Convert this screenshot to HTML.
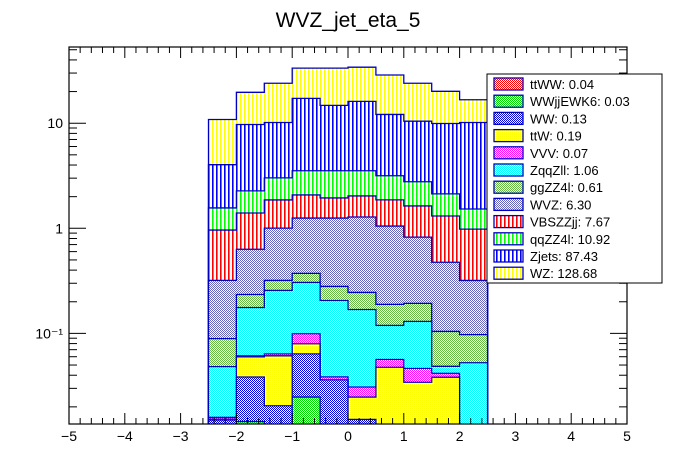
<!DOCTYPE html>
<html><head><meta charset="utf-8"><style>
html,body{margin:0;padding:0;background:#fff;overflow:hidden;width:696px;height:472px;}
svg{display:block;font-family:"Liberation Sans",Arial,sans-serif;}
</style></head><body>
<svg id="chart" width="696" height="472" viewBox="0 0 696 472">
<defs>
 <pattern id="vl-yellow" width="4" height="4" patternUnits="userSpaceOnUse"><rect width="4" height="4" fill="#fff"/><rect x="0" width="1.6" height="4" fill="#ffff00"/></pattern>
 <pattern id="vl-blue" width="4" height="4" patternUnits="userSpaceOnUse"><rect width="4" height="4" fill="#fff"/><rect x="0" width="1.6" height="4" fill="#0000ff"/></pattern>
 <pattern id="vl-green" width="4" height="4" patternUnits="userSpaceOnUse"><rect width="4" height="4" fill="#fff"/><rect x="0" width="1.6" height="4" fill="#00ff00"/></pattern>
 <pattern id="vl-red" width="4" height="4" patternUnits="userSpaceOnUse"><rect width="4" height="4" fill="#fff"/><rect x="0" width="1.6" height="4" fill="#ff0000"/></pattern>
 <pattern id="ck-red" width="2" height="2" patternUnits="userSpaceOnUse"><rect width="2" height="2" fill="#fff"/><rect width="1" height="1" fill="#ff0000"/><rect x="1" y="1" width="1" height="1" fill="#ff0000"/></pattern>
 <pattern id="ck-green" width="2" height="2" patternUnits="userSpaceOnUse"><rect width="2" height="2" fill="#fff"/><rect width="1" height="1" fill="#00dd00"/><rect x="1" y="1" width="1" height="1" fill="#00dd00"/></pattern>
 <pattern id="ck-blue" width="2" height="2" patternUnits="userSpaceOnUse"><rect width="2" height="2" fill="#fff"/><rect width="1" height="1" fill="#0000dd"/><rect x="1" y="1" width="1" height="1" fill="#0000dd"/></pattern>
 <pattern id="ck-yellow" width="2" height="2" patternUnits="userSpaceOnUse"><rect width="2" height="2" fill="#ffff80"/><rect width="1" height="1" fill="#ffff00"/></pattern>
 <pattern id="ck-magenta" width="2" height="2" patternUnits="userSpaceOnUse"><rect width="2" height="2" fill="#fff"/><rect width="1" height="1" fill="#ff00ff"/><rect x="1" y="1" width="1" height="1" fill="#ff00ff"/></pattern>
 <pattern id="ck-cyan" width="2" height="2" patternUnits="userSpaceOnUse"><rect width="2" height="2" fill="#fff"/><rect width="1" height="1" fill="#00ffff"/><rect x="1" y="1" width="1" height="1" fill="#00ffff"/></pattern>
 <pattern id="ck-lgreen" width="2" height="2" patternUnits="userSpaceOnUse"><rect width="2" height="2" fill="#fff"/><rect width="1" height="1" fill="#66bb44"/><rect x="1" y="1" width="1" height="1" fill="#66bb44"/></pattern>
 <pattern id="ck-slate" width="2" height="2" patternUnits="userSpaceOnUse"><rect width="2" height="2" fill="#fff"/><rect width="1" height="1" fill="#6666bb"/><rect x="1" y="1" width="1" height="1" fill="#6666bb"/></pattern>
 <clipPath id="plotclip"><rect x="69" y="47" width="558" height="377"/></clipPath>
</defs>
<text x="348" y="27" font-size="21" text-anchor="middle">WVZ_jet_eta_5</text>
<g id="bars" clip-path="url(#plotclip)"></g>
<g id="axes"></g>
<g id="legend"></g>
</svg>
<script>
const binEdges = [-2.5,-2,-1.5,-1,-0.5,0,0.5,1,1.5,2,2.5];
const seriesNames = ["ttWW","WWjjEWK6","WW","ttW","VVV","ZqqZll","ggZZ4l","WVZ","VBSZZjj","qqZZ4l","Zjets","WZ"];
const legendLabels = ["ttWW: 0.04","WWjjEWK6: 0.03","WW: 0.13","ttW: 0.19","VVV: 0.07","ZqqZll: 1.06","ggZZ4l: 0.61","WVZ: 6.30","VBSZZjj: 7.67","qqZZ4l: 10.92","Zjets: 87.43","WZ: 128.68"];
const ttWW = [0.0005,0.0003,0.0003,0.0003,0.0005,0.0003,0.0003,0.0003,0.0003,0.0003];
const WWjjEWK6 = [0.0003,0.0142,0.0003,0.0245,0.0003,0.0003,0.0003,0.0003,0.0003,0.0003];
const WW = [0.0142,0.024,0.0199,0.0391,0.0353,0.0146,0.005,0.005,0.005,0.0014];
const ttW = [0.0003,0.0213,0.0407,0.0158,0.0001,0.0096,0.042,0.0287,0.0327,0.0001];
const VVV = [0.0006,0.0014,0.0027,0.0196,0.0024,0.0061,0.009,0.0122,0.0035,0.0001];
const ZqqZll = [0.0324,0.115,0.1923,0.2062,0.1671,0.1377,0.0625,0.0835,0.0068,0.0504];
const ggZZ4l = [0.0409,0.0584,0.0628,0.0672,0.0742,0.0766,0.0697,0.063,0.0558,0.0448];
const WVZ = [0.2304,0.3974,0.685,0.8793,0.9722,1.0348,0.8618,0.6316,0.3712,0.2218];
const VBSZZjj = [0.642,0.766,0.858,0.826,0.693,0.753,0.812,0.807,0.833,0.663];
const qqZZ4l = [0.60,0.872,1.158,1.452,1.585,1.497,1.298,1.139,0.817,0.545];
const Zjets = [2.469,7.45,7.13,13.7,11.24,12.6,8.96,7.68,7.805,8.62];
const WZ = [6.82,9.95,13.84,16.17,18.63,17.97,16.65,13.54,10.17,6.56];
const xTickLabels = ["\u22125","\u22124","\u22123","\u22122","\u22121","0","1","2","3","4","5"];
const yTickValues = [0.1,1,10];
const yTickLabels = ["10\u207B\u00B9","1","10"];

const allSeries = [ttWW,WWjjEWK6,WW,ttW,VVV,ZqqZll,ggZZ4l,WVZ,VBSZZjj,qqZZ4l,Zjets,WZ];
const fills = ["url(#ck-red)","url(#ck-green)","url(#ck-blue)","url(#ck-yellow)","url(#ck-magenta)","url(#ck-cyan)","url(#ck-lgreen)","url(#ck-slate)","url(#vl-red)","url(#vl-green)","url(#vl-blue)","url(#vl-yellow)"];
const X0=69,X1=627,Y0=47,Y1=424;
const xScale = v => X0 + (v+5)/10*(X1-X0);
const yScale = v => 123.2 + (1 - Math.log10(v))*105.1;
const NS="http://www.w3.org/2000/svg";
function mk(tag, attrs, parent){const e=document.createElementNS(NS,tag);for(const k in attrs)e.setAttribute(k,attrs[k]);parent.appendChild(e);return e;}

const barsG=document.getElementById('bars');
const nb=binEdges.length-1;
const cum=new Array(nb).fill(0);
const stacks=[];
for(let s=0;s<allSeries.length;s++){
  const lo=cum.slice();
  for(let b=0;b<nb;b++)cum[b]+=allSeries[s][b];
  stacks.push({lo,hi:cum.slice()});
}
for(let s=allSeries.length-1;s>=0;s--){
  const g=mk('g',{},barsG);
  
  
  let d='';
  for(let b=0;b<nb;b++){
    const xa=xScale(binEdges[b]), xb=xScale(binEdges[b+1]);
    const yt=Math.min(yScale(stacks[s].hi[b]),Y1+3);
    d+=(b===0?'M'+xa+' '+(Y1+3)+' L'+xa+' '+yt:' L'+xa+' '+yt)+' L'+xb+' '+yt;
  }
  d+=' L'+xScale(binEdges[nb])+' '+(Y1+3)+' Z';
  const p=mk('path',{d:d,fill:fills[s],stroke:'#0000c0','stroke-width':'1.3'},g);
  
  
}

const ax=document.getElementById('axes');
mk('rect',{x:X0,y:Y0,width:X1-X0,height:Y1-Y0,fill:'none',stroke:'#000','stroke-width':'1.2'},ax);
for(let i=0;i<=50;i++){
  const v=-5+i*0.2, x=xScale(v), major=(i%5===0);
  mk('line',{x1:x,x2:x,y1:Y1,y2:Y1-(major?11:6),stroke:'#000','stroke-width':'1'},ax);
  mk('line',{x1:x,x2:x,y1:Y0,y2:Y0+(major?11:6),stroke:'#000','stroke-width':'1'},ax);
}
xTickLabels.forEach((l,i)=>{
  const t=mk('text',{x:xScale(-5+i),y:441,'font-size':'14','text-anchor':'middle'},ax);
  t.textContent=l;
  
  
});
for(let dec=-2;dec<=1;dec++){
  for(let m=1;m<=9;m++){
    const v=m*Math.pow(10,dec), y=yScale(v);
    if(y<Y0||y>Y1)continue;
    const major=(m===1);
    mk('line',{x1:X0,x2:X0+(major?17:8),y1:y,y2:y,stroke:'#000','stroke-width':'1'},ax);
    mk('line',{x1:X1,x2:X1-(major?17:8),y1:y,y2:y,stroke:'#000','stroke-width':'1'},ax);
  }
}
yTickValues.forEach((v,i)=>{
  const t=mk('text',{x:63,y:yScale(v)+5,'font-size':'14','text-anchor':'end'},ax);
  t.textContent=yTickLabels[i];
  
  
});

const lg=document.getElementById('legend');


mk('rect',{x:487,y:74,width:175,height:209,fill:'#fff',stroke:'#000','stroke-width':'1'},lg);
for(let i=0;i<seriesNames.length;i++){
  const y=84+i*17.2;
  const e=mk('g',{},lg);
  
  
  mk('rect',{x:494,y:y-6,width:29,height:12,fill:fills[i],stroke:'#0000c0','stroke-width':'1.3'},e);
  const t=mk('text',{x:530,y:y+5,'font-size':'13'},e);
  t.textContent=legendLabels[i];
}
</script>
</body></html>
